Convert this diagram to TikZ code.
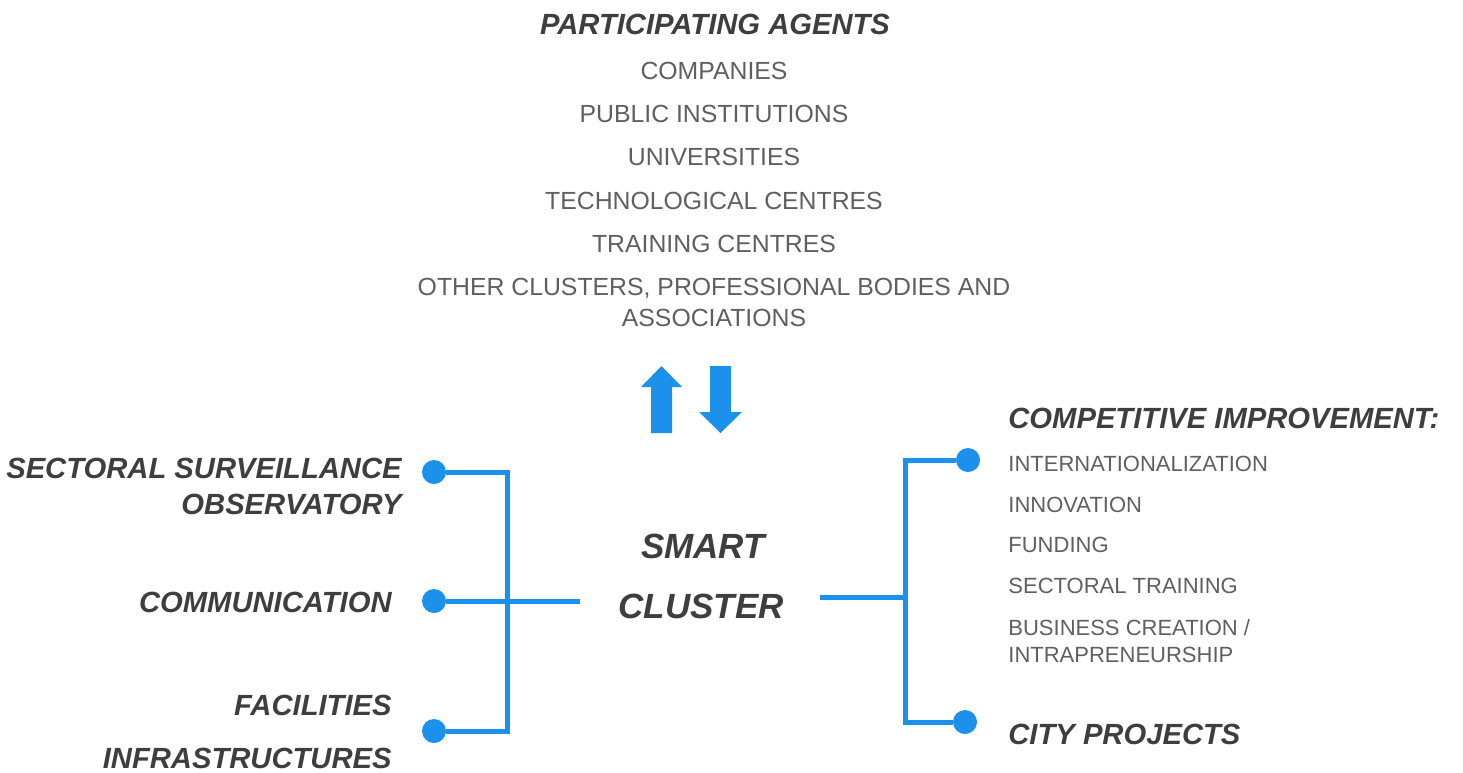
\documentclass[tikz,border=0pt]{standalone}
\usepackage{fontspec}
\setmainfont{Liberation Sans}
\usetikzlibrary{positioning}

\definecolor{cblue}{RGB}{28,145,236}
\definecolor{txtgray}{RGB}{95,95,95}
\definecolor{headgray}{RGB}{62,62,62}

\tikzset{Head/.style={text=headgray,inner sep=0pt,font=\fontsize{14.6}{18}\selectfont\bfseries\itshape}}
\tikzset{Agent/.style={text=txtgray,inner sep=0pt,align=center,font=\fontsize{12.4}{15.5}\selectfont}}
\tikzset{Item/.style={text=txtgray,inner sep=0pt,anchor=west,align=left,font=\fontsize{11}{13.5}\selectfont}}
\tikzset{Dot/.style={circle,fill=cblue,minimum size=12pt,inner sep=0pt}}
\tikzset{Link/.style={cblue,line width=2.5pt}}

\begin{document}
\begin{tikzpicture}[x=0.5pt,y=-0.5pt]
\useasboundingbox (0,0) rectangle (1463,772);

% participating agents
\node[Head] (PA) at (715,24) {PARTICIPATING AGENTS};
\node[Agent] (A1) at (714,71) {COMPANIES};
\node[Agent,node distance=21.6pt,below of=A1] (A2) {PUBLIC INSTITUTIONS};
\node[Agent,node distance=21.6pt,below of=A2] (A3) {UNIVERSITIES};
\node[Agent,node distance=21.6pt,below of=A3] (A4) {TECHNOLOGICAL CENTRES};
\node[Agent,node distance=21.6pt,below of=A4] (A5) {TRAINING CENTRES};
\node[Agent,node distance=29.5pt,below of=A5] (A6) {OTHER CLUSTERS, PROFESSIONAL BODIES AND\\ASSOCIATIONS};

% exchange arrows
\fill[cblue] (651,433) -- (651,387) -- (641,387) -- (661.5,366) -- (682,387) -- (672,387) -- (672,433) -- cycle;
\fill[cblue] (710,366) -- (731,366) -- (731,412) -- (742,412) -- (720.5,433) -- (699,412) -- (710,412) -- cycle;

% smart cluster
\node[Head,font=\fontsize{17.5}{20}\selectfont\bfseries\itshape] (SM) at (703,546) {SMART};
\node[Head,font=\fontsize{17.5}{20}\selectfont\bfseries\itshape] (CL) at (701,606) {CLUSTER};
\coordinate (SCL) at (580,601);
\coordinate (SCR) at (820,597);

% left branch
\node[Dot] (D1) at (434,472) {};
\node[Dot] (D2) at (434,601) {};
\node[Dot] (D3) at (434,731) {};
\node[Head,anchor=east,align=right] (OBS) at (402,486) {SECTORAL SURVEILLANCE\\OBSERVATORY};
\node[Head,anchor=east] (COM) at (392,602) {COMMUNICATION};
\node[Head,anchor=east] (FAC) at (392,705) {FACILITIES};
\node[Head,anchor=east] (INF) at (392,758) {INFRASTRUCTURES};
\coordinate (JL) at (507,601);
\draw[Link] (D1.east) -| (JL) |- (D3.east);
\draw[Link] (D2.east) -- (SCL);

% right branch
\node[Dot] (D4) at (968,460) {};
\node[Dot] (D5) at (965,722) {};
\coordinate (JR) at (905,597);
\draw[Link] (SCR) -- (JR);
\draw[Link] (D4.west) -| (JR) |- (D5.west);
\node[Head,anchor=west] (CI) at (1008,418) {COMPETITIVE IMPROVEMENT:};
\node[Item] (I1) at (1008,464) {INTERNATIONALIZATION};
\node[Item] (I2) at (1008,505) {INNOVATION};
\node[Item] (I3) at (1008,545) {FUNDING};
\node[Item] (I4) at (1008,586) {SECTORAL TRAINING};
\node[Item] (I5) at (1008,641) {BUSINESS CREATION /\\INTRAPRENEURSHIP};
\node[Head,anchor=west] (CP) at (1008,734) {CITY PROJECTS};

\end{tikzpicture}
\end{document}
